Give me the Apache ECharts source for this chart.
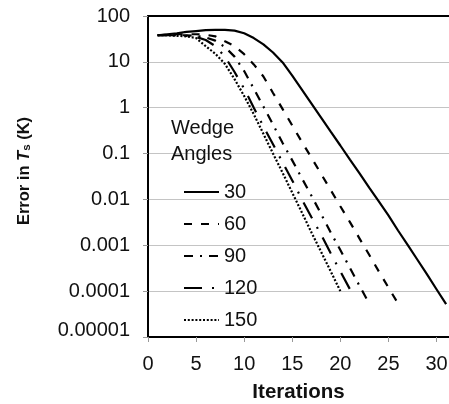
<!DOCTYPE html>
<html>
<head>
<meta charset="utf-8">
<script src="https://cdn.jsdelivr.net/npm/echarts@6/dist/echarts.min.js"></script>
<style>
html,body{margin:0;padding:0;background:#fff;}
#chart{width:449px;height:404px;}
</style>
</head>
<body>
<div id="chart"></div>
<script>
// ---- data ----
const iterations = [1,2,3,4,5,6,7,8,9,10,11,12,13,14,15,16,17,18,19,20,21,22,23,24,25,26,27,28,29,30,31];
const wedge30 = [38,40,42,45,47,49,50,50,48,42,33,24,16,9.7,5.0,2.49,1.23,0.61,0.30,0.15,0.074,0.037,0.018,0.0091,0.0045,0.0021,0.00102,0.00049,0.000234,0.00011,0.000052];
const wedge60 = [38,39,40,40,40,39,36,28,22,14.7,8.8,4.8,2.1,0.93,0.41,0.18,0.081,0.036,0.016,0.0071,0.0032,0.0014,0.00062,0.00027,0.00012,0.000054];
const wedge90 = [38,38,38,38,37,34,29,21,13,6.3,2.6,1.06,0.43,0.17,0.071,0.029,0.012,0.0048,0.0019,0.00079,0.00032,0.00013,0.000054];
const wedge120 = [38,38,38,37,35,30,22,13,6,2.6,1.0,0.39,0.16,0.064,0.026,0.010,0.0041,0.0017,0.00067,0.00027,0.00011];
const wedge150 = [38,38,37,36,33,22,15,9,4.2,1.8,0.72,0.27,0.10,0.038,0.014,0.0052,0.0019,0.00072,0.00027,0.0001];
const seriesNames = ['30','60','90','120','150'];
const xTickLabels = ['0','5','10','15','20','25','30'];
const yTickLabels = ['0.00001','0.0001','0.001','0.01','0.1','1','10','100'];
const legendTitle = 'Wedge\nAngles';
const xTitle = 'Iterations';

const FONT = '"Liberation Sans", Arial, sans-serif';
const allValues = [wedge30, wedge60, wedge90, wedge120, wedge150];
const dashTypes = ['solid', [8,9], [9,7,2,7], [18,10,2,10], [2,1.8]];

function pairs(vals){ return vals.map((v,i)=>[iterations[i], v]); }

const chart = echarts.init(document.getElementById('chart'), null, {renderer:'canvas'});
chart.setOption({
  backgroundColor:'#fff',
  animation:false,
  title:{
    text: legendTitle,
    left:166, top:110,
    textStyle:{fontFamily:FONT, fontSize:20, fontWeight:'normal', color:'#111', lineHeight:26}
  },
  legend:{
    data: seriesNames,
    orient:'vertical',
    left:178, top:177,
    itemWidth:35, itemHeight:20, itemGap:12,
    itemStyle:{color:'transparent', borderColor:'transparent', borderWidth:0},
    textStyle:{fontFamily:FONT, fontSize:20, color:'#111', lineHeight:20}
  },
  grid:{
    left:148, top:16, bottom:67, right:0, outerBoundsMode:'none', containLabel:false
  },
  xAxis:[{
    type:'value', min:0, max:31.3, interval:5,
    name:xTitle, nameLocation:'middle', nameGap:45,
    nameTextStyle:{fontFamily:FONT, fontSize:20.5, fontWeight:'bold', color:'#111'},
    axisLine:{show:true, onZero:false, lineStyle:{color:'#000', width:2}},
    axisTick:{show:true, length:5, lineStyle:{color:'#999'}},
    axisLabel:{margin:17, fontFamily:FONT, fontSize:20, color:'#111', showMaxLabel:false,
      formatter:(v)=>xTickLabels[Math.round(v/5)] || ''},
    splitLine:{show:false}
  },{
    type:'value', min:0, max:31.3, position:'top',
    axisLine:{show:true, onZero:false, lineStyle:{color:'#000', width:2}},
    axisTick:{show:false}, axisLabel:{show:false}, splitLine:{show:false}
  }],
  yAxis:{
    type:'log', logBase:10, min:0.00001, max:100,
    name:'{b|Error in }{i|T}{s|s}{b| (K)}',
    nameLocation:'middle', nameRotate:90, nameGap:115,
    nameTextStyle:{
      padding:[0,0,0,11],
      rich:{
        b:{fontFamily:FONT, fontSize:16.5, fontWeight:'bold', color:'#111', verticalAlign:'bottom', lineHeight:21},
        i:{fontFamily:FONT, fontSize:16.5, fontWeight:'bold', fontStyle:'italic', color:'#111', verticalAlign:'bottom', lineHeight:21},
        s:{fontFamily:FONT, fontSize:11.5, fontWeight:'bold', color:'#111', verticalAlign:'bottom', lineHeight:15}
      }
    },
    axisLine:{show:true, lineStyle:{color:'#000', width:2}},
    axisTick:{show:true, length:5, lineStyle:{color:'#999'}},
    axisLabel:{margin:18, fontFamily:FONT, fontSize:20, color:'#111',
      formatter:(v)=>{
        const idx = Math.round(Math.log10(v))+5;
        return idx === 0 ? '{low|' + yTickLabels[idx] + '}' : yTickLabels[idx];
      },
      rich:{low:{fontFamily:FONT, fontSize:20, color:'#111', padding:[0,0,14,0]}}
    },
    splitLine:{show:true, lineStyle:{color:'#c4c4c4', width:1}}
  },
  series: seriesNames.map((n,k)=>({
    name:n, type:'line', data:pairs(allValues[k]),
    symbol:'none', smooth:false, clip:true,
    lineStyle:{color:'#000', width:2.2, type:dashTypes[k], cap:'butt'},
    itemStyle:{color:'#000'}
  }))
});
</script>
</body>
</html>
